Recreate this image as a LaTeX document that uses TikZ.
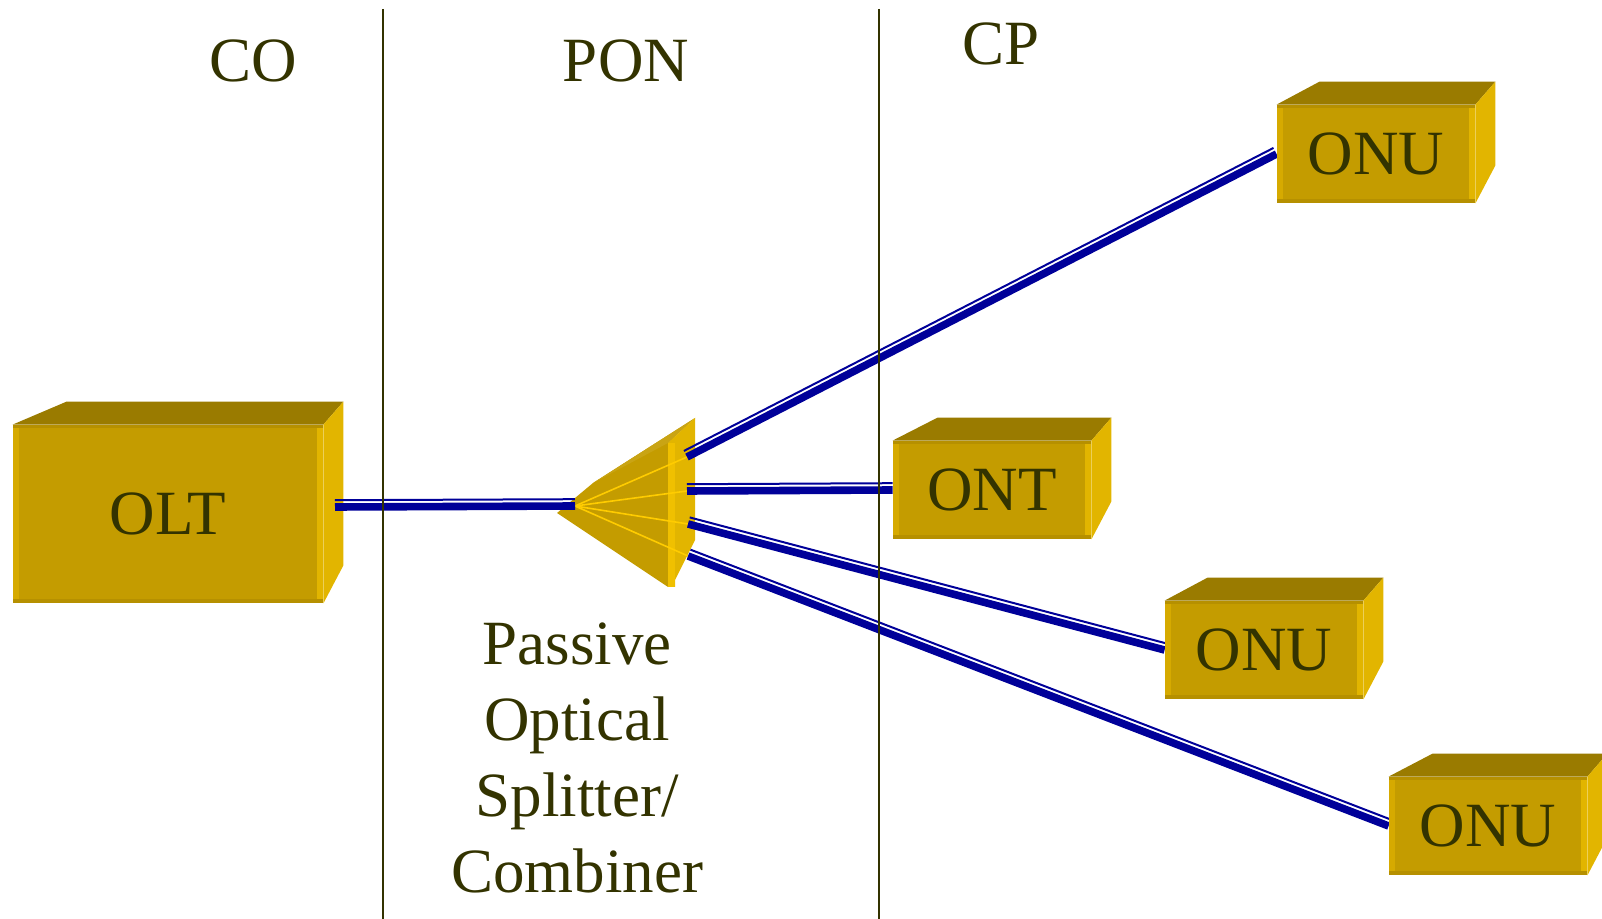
\documentclass[tikz,border=0pt]{standalone}
\usepackage{fontspec}
\setmainfont{Liberation Serif}
\usetikzlibrary{calc}
\definecolor{gold}{RGB}{196,156,0}
\definecolor{goldtop}{RGB}{154,123,0}
\definecolor{goldside}{RGB}{226,181,0}
\definecolor{goldedge}{RGB}{214,170,0}
\definecolor{golddark}{RGB}{182,144,0}
\definecolor{goldlite}{RGB}{240,192,0}
\definecolor{fanline}{RGB}{255,204,0}
\definecolor{ink}{RGB}{51,51,0}
\definecolor{fibreblue}{RGB}{0,0,153}
\pgfdeclarelayer{bg}
\pgfdeclarelayer{mid}
\pgfsetlayers{bg,mid,main}
% sides of a box node: #1 name, #2 slant of the top face
\newcommand{\boxsides}[2]{%
\fill[goldtop](#1.north west)--++(#2,-23)--($(#1.north east)+(20,-23)$)--(#1.north east)--cycle;
\fill[goldside](#1.north east)--++(20,-23)--($(#1.south east)+(20,-38)$)--(#1.south east)--cycle;
\fill[goldedge](#1.north west)rectangle($(#1.south west)+(6,0)$);
\fill[goldside](#1.north east)rectangle($(#1.south east)+(-6,0)$);
\fill[golddark](#1.north west)rectangle($(#1.north east)+(0,3)$);
\fill[golddark](#1.south west)rectangle($(#1.south east)+(0,-4)$);
}
% fibre: thick line with a thin one beside it
\newcommand{\fiberline}[2]{%
\draw[fibre](#1)--(#2);
\draw[fibrethin]($(#1)!3.4pt!90:(#2)$)--($(#2)!3.4pt!-90:(#1)$);
}
\begin{document}
\begin{tikzpicture}[x=0.5pt,y=-0.5pt,
  unit/.style={fill=gold,inner sep=0,minimum width=99pt,minimum height=49pt,text=ink,font=\fontsize{31.5}{38}\selectfont},
  heading/.style={text=ink,inner sep=0,anchor=base,font=\fontsize{31.5}{38}\selectfont},
  fibre/.style={fibreblue,line width=3.8pt},
  fibrethin/.style={fibreblue,line width=1pt},
  fan/.style={fanline,line width=0.8pt},
  divider/.style={ink,line width=1pt}]
\useasboundingbox(0,0)rectangle(1602,919);
% central office
\begin{pgfonlayer}{bg}
\node[unit,minimum width=155pt,minimum height=89pt](olt)at(168,514){OLT};
\boxsides{olt}{54}
\coordinate(oltport)at(335,507);
% splitter
\coordinate(split)at(575,506);
\fill[gold](557,513)--(593,483)--(695,418)--(668,443)--(668,587)--cycle;
\fill[gold!92!white](593,483)--(695,418)--(668,443)--cycle;
\fill[goldside](668,443)--(695,418)--(695,540)--(675,580)--(675,587)--(668,587)--cycle;
\fill[goldlite](668,443)rectangle(675,587);
\coordinate(p1)at(687,457);
\coordinate(p2)at(687,491);
\coordinate(p3)at(688,524);
\coordinate(p4)at(688,556);
\foreach \p in {p1,p2,p3,p4}
  \draw[fan](split)--(\p);
\end{pgfonlayer}
% customer premises
\node[unit](onu1)at(1376,154){ONU};
\boxsides{onu1}{43}
\node[unit](ont)at(992,490){ONT};
\boxsides{ont}{45}
\node[unit](onu2)at(1264,650){ONU};
\boxsides{onu2}{43}
\node[unit](onu3)at(1488,826){ONU};
\boxsides{onu3}{44}
% fibres
\begin{pgfonlayer}{mid}
\fiberline{oltport}{split}
\fiberline{p1}{onu1.west}
\fiberline{p2}{ont.west}
\fiberline{p3}{onu2.west}
\fiberline{p4}{onu3.west}
\end{pgfonlayer}
\draw[divider](383,9)--(383,919);
\draw[divider](879,9)--(879,919);
\node[heading](co)at(253,82){CO};
\node[heading](pon)at(626,82){PON};
\node[heading](cp)at(1001,65){CP};
\node[text=ink,inner sep=0,align=center,font=\fontsize{31.5}{38}\selectfont](pos)at(577,758){Passive\\Optical\\Splitter/\\Combiner};
\end{tikzpicture}
\end{document}
